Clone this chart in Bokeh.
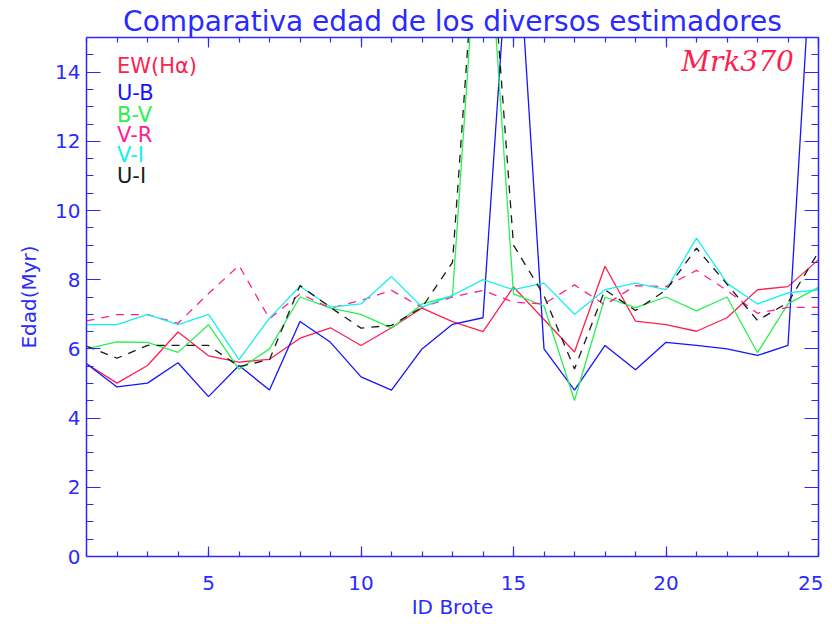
from bokeh.plotting import figure
from bokeh.models import LinearAxis, FixedTicker, Range1d, Title
from bokeh.core.properties import value
from bokeh.embed import file_html
from bokeh.resources import INLINE

# ---------------- data ----------------
brote = list(range(1, 26))
ew_ha = [5.57, 5.01, 5.52, 6.49, 5.80, 5.62, 5.70, 6.31, 6.61, 6.10, 6.61, 7.18, 6.79,
         6.50, 7.79, 6.85, 5.91, 8.39, 6.80, 6.70, 6.51, 6.90, 7.71, 7.80, 8.58]
u_b = [5.57, 4.90, 5.01, 5.60, 4.62, 5.52, 4.81, 6.79, 6.19, 5.19, 4.81, 6.00, 6.71,
       6.90, 20.0, 6.00, 4.81, 6.10, 5.40, 6.19, 6.10, 6.00, 5.81, 6.10, 21.0]
b_v = [6.00, 6.20, 6.19, 5.90, 6.70, 5.41, 6.00, 7.50, 7.18, 7.00, 6.60, 7.30, 7.53,
       20.6, 7.59, 7.24, 4.51, 7.50, 7.19, 7.50, 7.10, 7.50, 5.89, 7.30, 7.78]
v_r = [6.81, 6.99, 6.99, 6.74, 7.60, 8.41, 6.87, 7.59, 7.18, 7.40, 7.69, 7.20, 7.50,
       7.69, 7.35, 7.30, 7.85, 7.27, 7.83, 7.80, 8.27, 7.69, 7.03, 7.20, 7.20]
v_i = [6.70, 6.70, 7.00, 6.70, 7.00, 5.69, 6.89, 7.81, 7.21, 7.30, 8.09, 7.21, 7.55,
       8.00, 7.71, 7.90, 7.00, 7.71, 7.90, 7.71, 9.20, 7.90, 7.30, 7.62, 7.71]
u_i = [6.08, 5.73, 6.10, 6.10, 6.10, 5.49, 5.69, 7.83, 7.20, 6.60, 6.68, 7.20, 8.50,
       21.0, 9.00, 7.54, 5.42, 7.71, 7.11, 7.70, 8.91, 7.87, 6.82, 7.34, 8.80]

series_names = ["EW(H\u03b1)", "U-B", "B-V", "V-R", "V-I", "U-I"]
x_major_ticks = [5, 10, 15, 20, 25]
x_minor_ticks = list(range(1, 26))
y_major_ticks = [0, 2, 4, 6, 8, 10, 12, 14]
y_minor_ticks = [i * 0.5 for i in range(0, 31)]

title_text = "Comparativa edad de los diversos estimadores"
x_label = "ID Brote"
y_label = "Edad(Myr)"
object_name = "Mrk370"

# ---------------- styles ----------------
AX = "#2a2aff"
RED = "#ff1f4f"
colors = [RED, "#1414ff", "#2af050", "#ff2090", "#14f0f0", "#1a1a1a"]
dashes = ["solid", "solid", "solid", "8 7", "solid", "8 7"]
FONT = "DejaVu Sans"

p = figure(frame_width=732, frame_height=519,
           min_border_left=86, min_border_right=5, min_border_top=37, min_border_bottom=62,
           x_range=Range1d(1, 25), y_range=Range1d(0, 15),
           output_backend="svg", toolbar_location=None,
           x_axis_location=None, y_axis_location=None)
p.xgrid.visible = False
p.ygrid.visible = False
p.outline_line_color = None
p.background_fill_color = "white"
p.border_fill_color = "white"

xt = FixedTicker(ticks=x_major_ticks, minor_ticks=x_minor_ticks)
yt = FixedTicker(ticks=y_major_ticks, minor_ticks=y_minor_ticks)


def style(ax, major_in, minor_in, show_labels):
    ax.axis_line_color = AX
    ax.axis_line_width = 1.5
    ax.major_tick_line_color = AX
    ax.minor_tick_line_color = AX
    ax.major_tick_line_width = 1.2
    ax.minor_tick_line_width = 1.2
    ax.major_tick_in = major_in
    ax.major_tick_out = 0
    ax.minor_tick_in = minor_in
    ax.minor_tick_out = 0
    ax.major_label_text_color = AX
    ax.major_label_text_font = FONT
    ax.major_label_text_font_size = "20px"
    ax.axis_label_text_color = AX
    ax.axis_label_text_font = FONT
    ax.axis_label_text_font_style = "normal"
    ax.axis_label_text_font_size = "20px"
    if not show_labels:
        ax.major_label_overrides = {t: "" for t in ax.ticker.ticks}
        ax.major_label_standoff = 0


left = LinearAxis(ticker=yt, axis_label=y_label)
style(left, 14, 7, True)
left.major_label_standoff = 6
left.axis_label_standoff = 11
p.add_layout(left, "left")

bottom = LinearAxis(ticker=xt, axis_label=x_label)
style(bottom, 10, 5, True)
bottom.major_label_standoff = 19
bottom.axis_label_standoff = 2
p.add_layout(bottom, "below")

right = LinearAxis(ticker=yt)
style(right, 14, 7, False)
p.add_layout(right, "right")

top = LinearAxis(ticker=xt)
style(top, 10, 5, False)
top.major_label_standoff = 5   # small gap between frame and title
p.add_layout(top, "above")

p.add_layout(Title(text=title_text, align="center", text_font=FONT,
                   text_font_size="28px", text_font_style="normal",
                   text_color=AX, standoff=0), "above")

all_series = [ew_ha, u_b, b_v, v_r, v_i, u_i]
for vals, col, dash in zip(all_series, colors, dashes):
    p.line(brote, vals, line_color=col, line_width=1.3, line_dash=dash)

# legend-like labels (IDL style: coloured text only)
legend_x = [2.0] * len(series_names)
legend_y = [14.19, 13.39, 12.77, 12.19, 11.61, 11.01]
p.text(x=legend_x, y=legend_y, text=series_names, text_color=colors,
       text_font=value(FONT), text_font_size=value("21px"),
       text_align="left", text_baseline="middle")

p.text(x=[24.19], y=[14.30], text=[object_name], text_color=RED,
       text_font=value("DejaVu Serif"), text_font_style="italic",
       text_font_size=value("28px"), text_align="right", text_baseline="middle")

open("out.html", "w").write(file_html(p, INLINE))
